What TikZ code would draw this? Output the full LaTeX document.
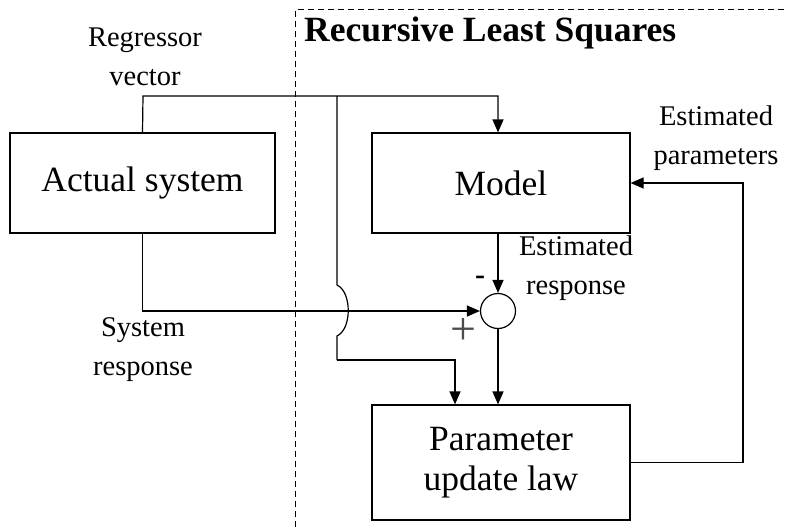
\documentclass[tikz,border=0pt]{standalone}
\usepackage{fontspec}
\setmainfont{Liberation Serif}
\usetikzlibrary{arrows.meta}
\begin{document}
\begin{tikzpicture}[x=1pt,y=-1pt,
  box/.style={draw,line width=1.2pt,inner sep=0pt,font=\fontsize{35.5}{40}\selectfont,align=center},
  lbl/.style={font=\fontsize{28.5}{39}\selectfont,align=center,inner sep=0pt},
  ln/.style={line width=1.2pt},
  arr/.style={line width=1.2pt,-{Triangle[length=13pt,width=11pt]}}]
\useasboundingbox (0,0) rectangle (787,527);
% dashed RLS region
\draw[line width=1pt,dash pattern=on 6pt off 4pt] (295,527) -- (295,10) -- (787,10);
\node[font=\fontsize{35.5}{40}\selectfont\bfseries,anchor=west,inner sep=0pt] (title) at (304,33) {Recursive Least Squares};
% boxes
\node[box,minimum width=265,minimum height=100] (act) at (142.5,183) {Actual system};
\node[box,minimum width=258,minimum height=100] (model) at (501,183) {Model};
\node[box,minimum width=258,minimum height=115] (upd) at (501,462.5) {Parameter\\update law};
\node[draw,circle,line width=1.2pt,minimum size=35pt,inner sep=0pt] (sum) at (498,311) {};
% coordinates
\coordinate (top) at (143,96);
\coordinate (br) at (337,96);
\coordinate (h1) at (337,285);
\coordinate (h2) at (337,336);
\coordinate (low) at (337,360);
\coordinate (fb) at (743,462.5);
% connectors
\draw[arr] (act.north) -- (top) -| (model.north -| sum);
\draw[ln] (br) -- (h1) .. controls (352,292) and (352,329) .. (h2) -- (low);
\draw[arr] (low) -| (upd.north -| 455,0);
\draw[arr] (act.south) |- (sum.west);
\draw[arr] (model.south -| sum) -- (sum.north);
\draw[arr] (sum.south) -- (upd.north -| sum);
\draw[arr] (upd.east) -- (fb) |- (model.east);
% labels
\node[lbl] (lreg) at (145,57) {Regressor\\vector};
\node[lbl] (lsys) at (143,350) {System\\response};
\node[lbl] (lest) at (576,268) {Estimated\\response};
\node[lbl] (lpar) at (716,138) {Estimated\\parameters};
\node[font=\fontsize{30}{30}\selectfont\bfseries,inner sep=0pt] (minus) at (480,280) {-};
\node[font=\fontsize{46}{46}\selectfont,text=black!70,inner sep=0pt] (plus) at (463,332) {+};
\end{tikzpicture}
\end{document}
